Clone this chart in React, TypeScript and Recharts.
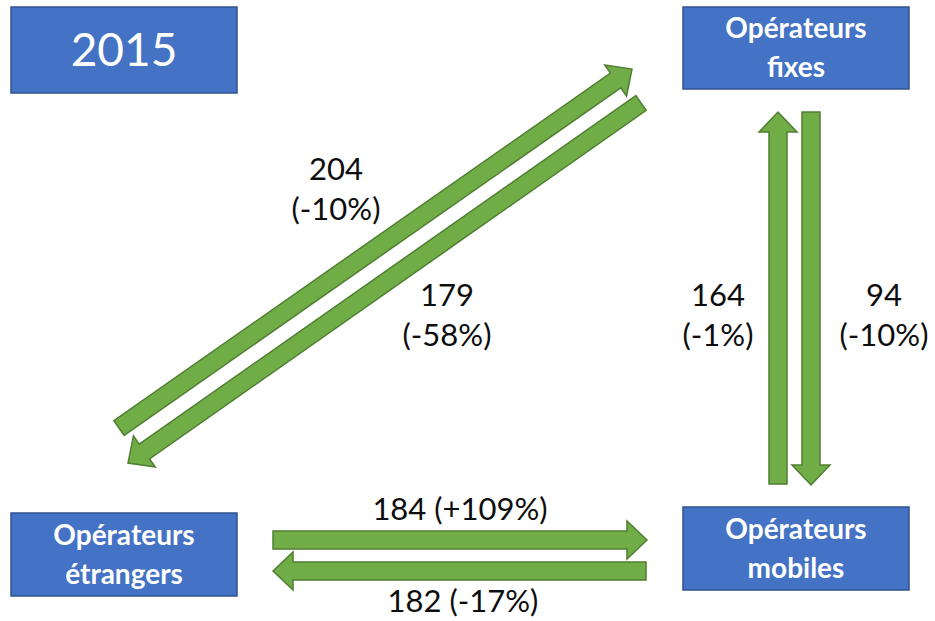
import { ComposedChart, XAxis, YAxis, ReferenceArea, ReferenceLine, ReferenceDot } from "recharts"

const W = 935
const H = 621

// flows between operator groups, 2015
const yearLabel = "2015"
const nodeNames = ["Opérateurs fixes", "Opérateurs mobiles", "Opérateurs étrangers"]
const flowFrom = ["Opérateurs étrangers", "Opérateurs fixes", "Opérateurs mobiles", "Opérateurs fixes", "Opérateurs étrangers", "Opérateurs mobiles"]
const flowTo = ["Opérateurs fixes", "Opérateurs étrangers", "Opérateurs fixes", "Opérateurs mobiles", "Opérateurs mobiles", "Opérateurs étrangers"]
const flowValues = [204, 179, 164, 94, 184, 182]
const flowChanges = ["-10%", "-58%", "-1%", "-10%", "+109%", "-17%"]

// layout (page coordinates, axes map 1:1)
const yearBox = { x1: 11, x2: 237, y1: 7, y2: 93 }
const nodeBoxes: Record<string, { x1: number; x2: number; y1: number; y2: number }> = {
  "Opérateurs fixes": { x1: 683, x2: 909, y1: 7, y2: 89 },
  "Opérateurs mobiles": { x1: 683, x2: 909, y1: 507, y2: 590 },
  "Opérateurs étrangers": { x1: 11, x2: 237, y1: 513, y2: 596 },
}
const arrowPaths = [
  { tail: [119, 428], tip: [632, 69], label: [336, 180], inline: false },
  { tail: [641, 103], tip: [128, 463], label: [447, 306], inline: false },
  { tail: [778, 484], tip: [778, 112], label: [718, 306], inline: false },
  { tail: [811, 112], tip: [811, 485], label: [884, 306], inline: false },
  { tail: [273, 540], tip: [647, 540], label: [460, 520], inline: true },
  { tail: [646, 571], tip: [273, 571], label: [463, 612], inline: true },
]

const FONT = "Lato, 'Open Sans', sans-serif"
const BLUE = "#4472C4"
const BLUE_EDGE = "#2F528F"
const GREEN = "#70AD47"
const GREEN_EDGE = "#507E32"

function Arrow(props: any) {
  const { x1, y1, x2, y2 } = props
  const shaft = 9
  const head = 19
  const headLen = 20
  const dx = x2 - x1
  const dy = y2 - y1
  const len = Math.sqrt(dx * dx + dy * dy)
  const ux = dx / len
  const uy = dy / len
  const nx = -uy
  const ny = ux
  const bx = x2 - ux * headLen
  const by = y2 - uy * headLen
  const pts = [
    [x1 + nx * shaft, y1 + ny * shaft],
    [bx + nx * shaft, by + ny * shaft],
    [bx + nx * head, by + ny * head],
    [x2, y2],
    [bx - nx * head, by - ny * head],
    [bx - nx * shaft, by - ny * shaft],
    [x1 - nx * shaft, y1 - ny * shaft],
  ]
  return (
    <polygon
      points={pts.map((p) => p.join(",")).join(" ")}
      fill={GREEN}
      stroke={GREEN_EDGE}
      strokeWidth={1.5}
      strokeLinejoin="miter"
    />
  )
}

function BoxLabel(props: any) {
  const { viewBox, lines, size, bold, offsets } = props
  const cx = viewBox.x + viewBox.width / 2
  const cy = viewBox.y + viewBox.height / 2
  return (
    <text textAnchor="middle" fill="#fff" fontFamily={FONT} fontSize={size} fontWeight={bold ? 700 : 400}>
      {lines.map((t: string, i: number) => (
        <tspan key={i} x={cx} y={cy + offsets[i]}>
          {t}
        </tspan>
      ))}
    </text>
  )
}

function FlowLabel(props: any) {
  const { viewBox, value, change, inline } = props
  const x = viewBox.x + viewBox.width / 2
  const y = viewBox.y + viewBox.height / 2
  if (inline) {
    return (
      <text x={x} y={y} textAnchor="middle" fill="#0d0d0d" fontFamily={FONT} fontSize={31}>
        {`${value} (${change})`}
      </text>
    )
  }
  return (
    <text textAnchor="middle" fill="#0d0d0d" fontFamily={FONT} fontSize={31}>
      <tspan x={x} y={y}>{value}</tspan>
      <tspan x={x} y={y + 40}>{`(${change})`}</tspan>
    </text>
  )
}

function splitName(name: string) {
  const i = name.indexOf(" ")
  return [name.slice(0, i), name.slice(i + 1)]
}

export default function App() {
  return (
    <div style={{ position: "absolute", left: 0, top: 0, width: W, height: H, background: "#fff" }}>
      <ComposedChart width={W} height={H} data={[]} margin={{ top: 0, right: 0, bottom: 0, left: 0 }}>
        <XAxis type="number" dataKey="x" domain={[0, W]} hide allowDataOverflow />
        <YAxis type="number" dataKey="y" domain={[0, H]} reversed hide allowDataOverflow />

        <ReferenceArea
          {...yearBox}
          fill={BLUE}
          fillOpacity={1}
          stroke={BLUE_EDGE}
          strokeWidth={1.5}
          label={<BoxLabel lines={[yearLabel]} size={46} bold={false} offsets={[16]} />}
        />
        {nodeNames.map((name) => (
          <ReferenceArea
            key={name}
            {...nodeBoxes[name]}
            fill={BLUE}
            fillOpacity={1}
            stroke={BLUE_EDGE}
            strokeWidth={1.5}
            label={<BoxLabel lines={splitName(name)} size={28} bold offsets={[-10, 29]} />}
          />
        ))}

        {flowValues.map((v, i) => (
          <ReferenceLine
            key={`flow-${flowFrom[i]}-${flowTo[i]}`}
            segment={[
              { x: arrowPaths[i].tail[0], y: arrowPaths[i].tail[1] },
              { x: arrowPaths[i].tip[0], y: arrowPaths[i].tip[1] },
            ]}
            ifOverflow="visible"
            shape={(p: any) => <Arrow {...p} />}
          />
        ))}

        {flowValues.map((v, i) => (
          <ReferenceDot
            key={`lbl-${i}`}
            x={arrowPaths[i].label[0]}
            y={arrowPaths[i].label[1]}
            r={0}
            fill="none"
            stroke="none"
            ifOverflow="visible"
            label={<FlowLabel value={v} change={flowChanges[i]} inline={arrowPaths[i].inline} />}
          />
        ))}
      </ComposedChart>
    </div>
  )
}
